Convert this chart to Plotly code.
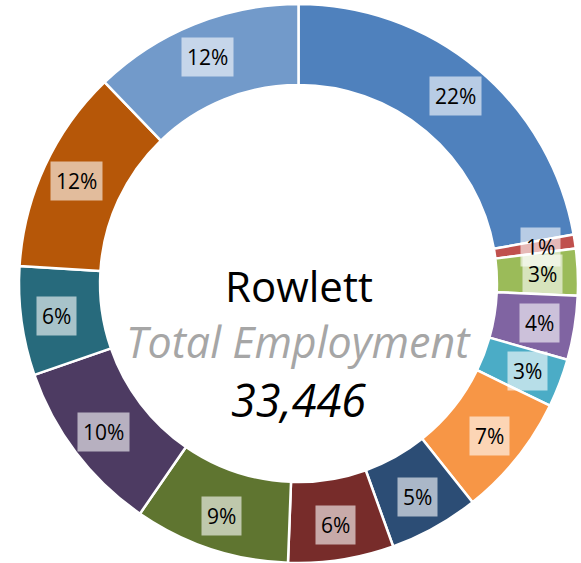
"""Rowlett total employment donut chart."""

import numpy as np
import plotly.graph_objects as go

# share of total employment by sector (percent), clockwise from 12 o'clock
sectors = [f"Sector {i}" for i in range(1, 14)]
shares = [22.2, 0.8, 2.7, 3.7, 2.8, 7.1, 5.2, 6.1, 9.0, 10.1, 6.3, 11.8, 12.2]
colors = [
    "#4f81bd", "#c0504d", "#9bbb59", "#8064a2", "#4bacc6", "#f79646",
    "#2c4d75", "#772c2a", "#5f7530", "#4d3b62", "#276a7c", "#b65708", "#729aca",
]
city = "Rowlett"
subtitle = "Total Employment"
total_employment = 33446

W, H = 581, 563
margin = dict(l=17, r=1, t=4, b=0)
plot_w = W - margin["l"] - margin["r"]
plot_h = H - margin["t"] - margin["b"]
radius = min(plot_w, plot_h) / 2
label_r = 0.875
font_family = "Open Sans"

fig = go.Figure()

fig.add_trace(go.Pie(
    labels=sectors,
    values=shares,
    hole=0.71,
    sort=False,
    direction="clockwise",
    rotation=0,
    marker=dict(colors=colors, line=dict(color="white", width=2.5)),
    textinfo="none",
    hoverinfo="label+percent",
    showlegend=False,
    domain=dict(x=[0, 1], y=[0, 1]),
))

# percent labels in translucent boxes at the middle of each slice
vals = np.array(shares, dtype=float)
fracs = vals / vals.sum()
mids = np.cumsum(fracs) - fracs / 2
annotations = []
for f, m in zip(fracs, mids):
    theta = 2 * np.pi * m
    x = 0.5 + label_r * radius * np.sin(theta) / plot_w
    y = 0.5 + label_r * radius * np.cos(theta) / plot_h
    annotations.append(dict(
        x=x, y=y, xref="paper", yref="paper",
        xanchor="center", yanchor="middle",
        text=f"{f * 100:.0f}%",
        showarrow=False,
        font=dict(family=font_family, size=21, color="black"),
        bgcolor="rgba(255,255,255,0.6)",
        borderpad=5,
    ))

# centre text
annotations += [
    dict(x=0.5, y=0.5, xref="paper", yref="paper", yshift=-2,
         text=city, showarrow=False,
         font=dict(family=font_family, size=42, color="black")),
    dict(x=0.5, y=0.5, xref="paper", yref="paper", yshift=-58,
         text=f"<i>{subtitle}</i>", showarrow=False,
         font=dict(family=font_family, size=43, color="#a6a6a6")),
    dict(x=0.5, y=0.5, xref="paper", yref="paper", yshift=-116,
         text=f"<i>{total_employment:,}</i>", showarrow=False,
         font=dict(family=font_family, size=45, color="black")),
]

fig.update_layout(
    width=W,
    height=H,
    margin=margin,
    paper_bgcolor="white",
    plot_bgcolor="white",
    annotations=annotations,
)

fig.write_html(
    "out.html",
    config={"displayModeBar": False},
    post_script="document.body.style.margin = '0';",
)
